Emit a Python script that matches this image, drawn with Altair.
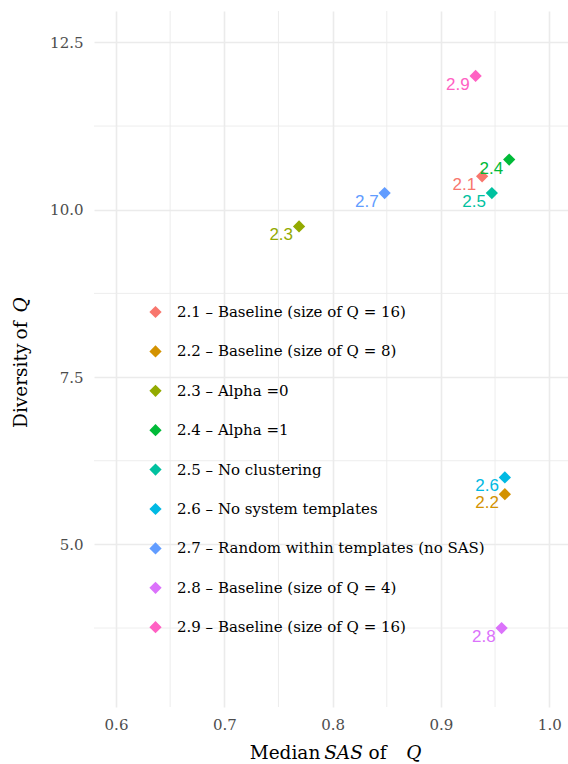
import altair as alt
import pandas as pd

ids = ["2.1", "2.2", "2.3", "2.4", "2.5", "2.6", "2.7", "2.8", "2.9"]
names = [
    "2.1 – Baseline (size of Q = 16)",
    "2.2 – Baseline (size of Q = 8)",
    "2.3 – Alpha =0",
    "2.4 – Alpha =1",
    "2.5 – No clustering",
    "2.6 – No system templates",
    "2.7 – Random within templates (no SAS)",
    "2.8 – Baseline (size of Q = 4)",
    "2.9 – Baseline (size of Q = 16)",
]
sas = [0.938, 0.959, 0.769, 0.963, 0.947, 0.959, 0.848, 0.956, 0.932]
diversity = [10.5, 5.75, 9.75, 10.75, 10.25, 6.0, 10.25, 3.75, 12.0]
colors = ["#F8766D", "#D39200", "#93AA00", "#00BA38", "#00C19F",
          "#00B9E3", "#619CFF", "#DB72FB", "#FF61C3"]

x_major = [0.6, 0.7, 0.8, 0.9, 1.0]
x_minor = [0.65, 0.75, 0.85, 0.95]
y_major = [5.0, 7.5, 10.0, 12.5]
y_minor = [3.75, 6.25, 8.75, 11.25]

df = pd.DataFrame({"id": ids, "name": names, "sas": sas, "div": diversity})

SERIF = "DejaVu Serif"
GRID = "#EBEBEB"

xscale = alt.Scale(domain=[0.5797, 1.0173], nice=False, zero=False)
yscale = alt.Scale(domain=[2.57, 12.97], nice=False, zero=False)

xaxis = alt.Axis(values=x_major, format=".1f", title=None, grid=True,
                 gridColor=GRID, gridWidth=1.6, ticks=False, domain=False,
                 labelFont=SERIF, labelFontSize=15, labelColor="#4D4D4D",
                 labelPadding=10)
yaxis = alt.Axis(values=y_major, format=".1f", title=None, grid=True,
                 gridColor=GRID, gridWidth=1.6, ticks=False, domain=False,
                 labelFont=SERIF, labelFontSize=15, labelColor="#4D4D4D",
                 labelPadding=11)

color = alt.Color("name:N", scale=alt.Scale(domain=names, range=colors),
                  legend=alt.Legend(
                      title=None, orient="none", legendX=54, legendY=293.5,
                      symbolType="diamond", symbolSize=150,
                      symbolStrokeWidth=0, labelFont=SERIF,
                      labelFontSize=15, labelColor="black",
                      labelOffset=14, rowPadding=23.4, padding=0,
                      labelLimit=400))

vminor = alt.Chart(pd.DataFrame({"v": x_minor})).mark_rule(
    color=GRID, strokeWidth=0.9).encode(x=alt.X("v:Q", scale=xscale, axis=xaxis))
hminor = alt.Chart(pd.DataFrame({"v": y_minor})).mark_rule(
    color=GRID, strokeWidth=0.9).encode(y=alt.Y("v:Q", scale=yscale, axis=yaxis))

base = alt.Chart(df).encode(
    x=alt.X("sas:Q", scale=xscale, axis=xaxis),
    y=alt.Y("div:Q", scale=yscale, axis=yaxis),
)
points = base.mark_point(shape="diamond", filled=True, size=150, opacity=1,
                         strokeWidth=0).encode(color=color)
labels = base.mark_text(align="right", baseline="alphabetic", dx=-6, dy=14,
                        font="Liberation Sans",
                        fontSize=17).encode(
    text="id:N", color=alt.Color("name:N", legend=None))


def seg(text, x, y, italic=False, angle=0):
    return alt.Chart(pd.DataFrame({"t": [text]})).mark_text(
        font=SERIF, fontSize=18.5, color="black", align="center",
        baseline="alphabetic", angle=angle,
        fontStyle="italic" if italic else "normal",
    ).encode(text="t:N", x=alt.value(x), y=alt.value(y))


titles = [
    seg("Median", 191, 748),
    seg("SAS", 249.5, 748, italic=True),
    seg("of", 283.5, 748),
    seg("Q", 319.8, 748, italic=True),
    seg("Diversity", -67.5, 374.8, angle=270),
    seg("of", -67.5, 319.5, angle=270),
    seg("Q", -67.5, 294, italic=True, angle=270),
]

chart = alt.layer(vminor, hminor, points, labels, *titles).properties(
    width=474, height=696,
    autosize=alt.AutoSizeParams(type="none"),
    padding={"left": 94, "top": 11, "right": 0, "bottom": 57},
    background="white",
).configure_view(stroke=None)

chart.save("out.html", embed_options={"renderer": "svg", "actions": False})
